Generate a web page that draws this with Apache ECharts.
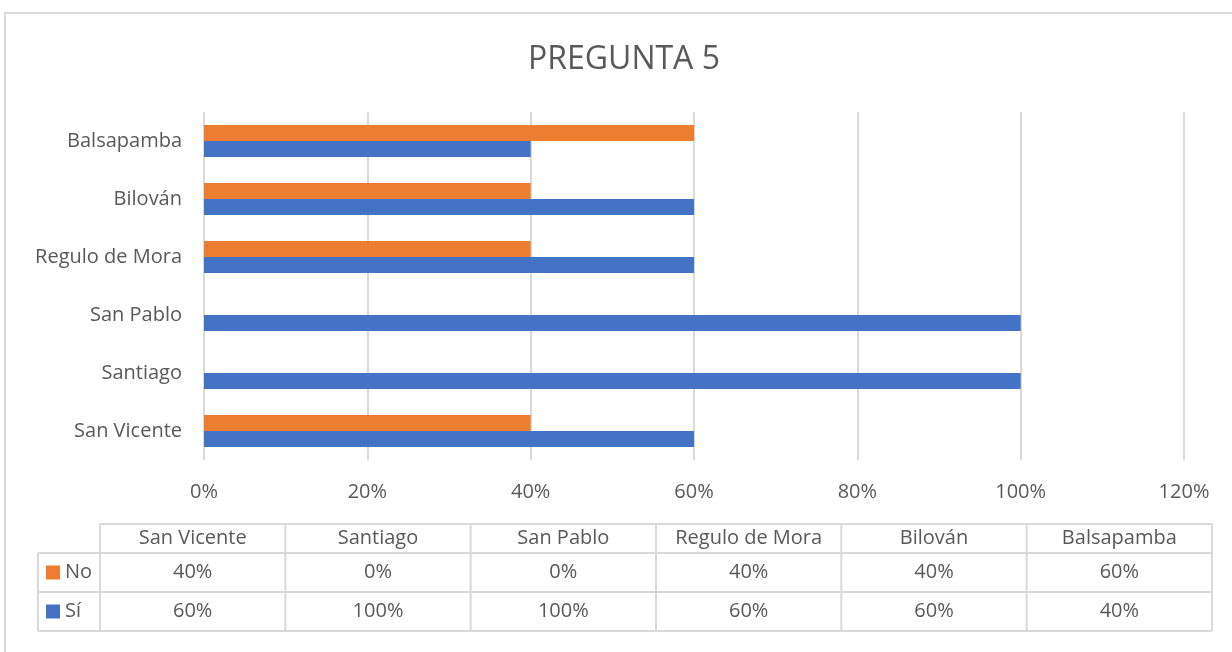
<!DOCTYPE html>
<html>
<head>
<meta charset="utf-8">
<script src="https://cdn.jsdelivr.net/npm/echarts@6/dist/echarts.min.js"></script>
<style>html,body{margin:0;padding:0;background:#fff}#c{width:1232px;height:652px}</style>
</head>
<body>
<div id="c"></div>
<script>
const title = 'PREGUNTA 5';
const categories = ['San Vicente', 'Santiago', 'San Pablo', 'Regulo de Mora', 'Bilován', 'Balsapamba'];
const seriesNames = ['No', 'Sí'];
const noValues = [40, 0, 0, 40, 40, 60];
const siValues = [60, 100, 100, 60, 60, 40];
const colors = { 'No': '#ED7D31', 'Sí': '#4472C4' };

const FONT = 'Open Sans';
const FS = 20;
const TXT = '#595959';
const LINE = '#d9d9d9';

// Data table layout
const tLeft = 38, tHeadLeft = 100, tRight = 1212;
const rowY = [524, 553, 592, 631];
const colW = (tRight - tHeadLeft) / categories.length;
const g = [];
const lineStyle = { stroke: LINE, lineWidth: 2 };
g.push({ type: 'line', shape: { x1: tHeadLeft, y1: rowY[0], x2: tRight, y2: rowY[0] }, style: lineStyle });
for (let i = 1; i < rowY.length; i++) {
  g.push({ type: 'line', shape: { x1: tLeft, y1: rowY[i], x2: tRight, y2: rowY[i] }, style: lineStyle });
}
g.push({ type: 'line', shape: { x1: tLeft, y1: rowY[1], x2: tLeft, y2: rowY[3] }, style: lineStyle });
for (let j = 0; j <= categories.length; j++) {
  const x = tHeadLeft + j * colW;
  g.push({ type: 'line', shape: { x1: x, y1: rowY[0], x2: x, y2: rowY[3] }, style: lineStyle });
}
const font = FS + 'px "' + FONT + '"';
categories.forEach((c, j) => {
  g.push({ type: 'text', x: tHeadLeft + (j + 0.5) * colW, y: (rowY[0] + rowY[1]) / 2,
    style: { text: c, fill: TXT, font: font, align: 'center', verticalAlign: 'middle' } });
});
const rows = [[seriesNames[0], noValues], [seriesNames[1], siValues]];
rows.forEach((r, i) => {
  const cy = (rowY[i + 1] + rowY[i + 2]) / 2;
  g.push({ type: 'rect', shape: { x: 46, y: cy - 7, width: 14, height: 14 }, style: { fill: colors[r[0]] } });
  g.push({ type: 'text', x: 65, y: cy, style: { text: r[0], fill: TXT, font: font, align: 'left', verticalAlign: 'middle' } });
  r[1].forEach((v, j) => {
    g.push({ type: 'text', x: tHeadLeft + (j + 0.5) * colW, y: cy,
      style: { text: v + '%', fill: TXT, font: font, align: 'center', verticalAlign: 'middle' } });
  });
});
g.push({ type: 'rect', shape: { x: 5, y: 13, width: 1240, height: 660 }, style: { fill: 'none', stroke: LINE, lineWidth: 2 }, z: -1 });

const chart = echarts.init(document.getElementById('c'), null, { renderer: 'canvas' });
chart.setOption({
  animation: false,
  backgroundColor: '#fff',
  title: {
    text: title, left: 523, top: 39,
    textStyle: { fontFamily: FONT, fontSize: 32, fontWeight: 'normal', color: TXT }
  },
  grid: { left: 204, right: 48, top: 112, bottom: 192, containLabel: false },
  xAxis: {
    type: 'value', min: 0, max: 120, interval: 20,
    axisLabel: { formatter: '{value}%', color: TXT, fontFamily: FONT, fontSize: FS, margin: 22 },
    axisLine: { show: false }, axisTick: { show: false },
    splitLine: { lineStyle: { color: LINE, width: 2 } }
  },
  yAxis: {
    type: 'category', data: categories,
    axisLabel: { color: TXT, fontFamily: FONT, fontSize: FS, margin: 22 },
    axisLine: { show: false }, axisTick: { show: false }
  },
  series: [
    { name: 'No', type: 'bar', data: noValues, barWidth: 16, barGap: '0%', itemStyle: { color: colors['No'] } },
    { name: 'Sí', type: 'bar', data: siValues, barWidth: 16, barGap: '0%', itemStyle: { color: colors['Sí'] } }
  ],
  graphic: g
});
</script>
</body>
</html>
